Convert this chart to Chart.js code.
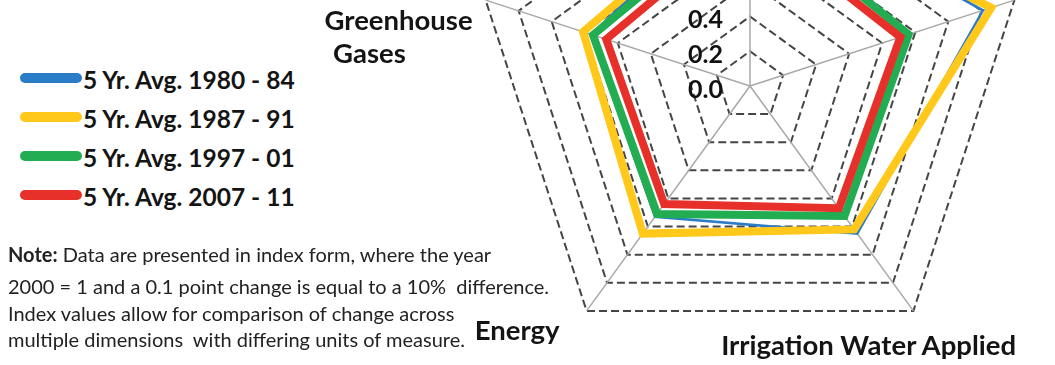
<!DOCTYPE html>
<html>
<head>
<meta charset="utf-8">
<script src="https://cdn.jsdelivr.net/npm/chart.js@4.4.1/dist/chart.umd.min.js"></script>
<style>
  html, body { margin: 0; padding: 0; background: #ffffff; }
  #wrap { position: relative; width: 1055px; height: 365px; overflow: hidden; background: #ffffff;
          font-family: Lato, "Open Sans", "Liberation Sans", sans-serif; color: #141414; }
  #chart { position: absolute; left: 472px; top: -192px; }
  .txt { position: absolute; white-space: pre; }
  .sw { position: absolute; border-radius: 5px; }
</style>
</head>
<body>
<div id="wrap"><canvas id="chart" width="556" height="556"></canvas></div>
<script>
// ---------------- data ----------------
const categories = ["Land Use", "Soil Erosion", "Irrigation Water Applied", "Energy", "Greenhouse Gases"];
const seriesLabels = ["5 Yr. Avg. 1980 - 84", "5 Yr. Avg. 1987 - 91", "5 Yr. Avg. 1997 - 01", "5 Yr. Avg. 2007 - 11"];
const avg1980to84 = [1.17, 1.41, 1.05, 0.93, 0.96];
const avg1987to91 = [1.13, 1.46, 1.02, 1.05, 1.01];
const avg1997to01 = [1.04, 0.96, 0.925, 0.91, 0.95];
const avg2007to11 = [0.96, 0.91, 0.87, 0.84, 0.87];
const tickLabels = ["0.0", "0.2", "0.4", "0.6", "0.8", "1.0", "1.2", "1.4", "1.6"];
const noteLead = "Note:";
const noteLines = [
  " Data are presented in index form, where the year",
  "2000 = 1 and a 0.1 point change is equal to a 10%  difference.",
  "Index values allow for comparison of change across",
  "multiple dimensions  with differing units of measure."
];

// ---------------- styles ----------------
const seriesColors = ["#2a7cc8", "#ffc81a", "#22ad52", "#e8302a"];
const seriesWidths = [2.5, 8, 8, 8];
const seriesOrder = [4, 3, 2, 1];
const FONT = 'Lato, "Open Sans", sans-serif';
const CANVAS_LEFT = 472, CANVAS_TOP = -192, WRAP_W = 1055;
const ASC = 0.887; // baseline position inside a line box of line-height = font size

const wrap = document.getElementById('wrap');

function addText(str, x, baseline, size, weight, align) {
  const el = document.createElement('div');
  el.className = 'txt';
  el.textContent = str;
  el.style.fontSize = size + 'px';
  el.style.lineHeight = size + 'px';
  el.style.fontWeight = weight;
  el.style.top = (baseline - ASC * size) + 'px';
  if (align === 'right') el.style.right = (WRAP_W - x) + 'px';
  else if (align === 'center') { el.style.left = x + 'px'; el.style.transform = 'translateX(-50%)'; }
  else el.style.left = x + 'px';
  wrap.appendChild(el);
  return el;
}

const tickLabelPlugin = {
  id: 'tickLabelsLeft',
  afterDatasetsDraw(chart) {
    const s = chart.scales.r;
    const ctx = chart.ctx;
    ctx.save();
    ctx.font = 'bold 25px ' + FONT;
    ctx.fillStyle = '#111111';
    ctx.textAlign = 'right';
    ctx.textBaseline = 'middle';
    s.ticks.forEach((t) => {
      const d = s.getDistanceFromCenterForValue(t.value);
      ctx.fillText(t.label, s.xCenter - 27, s.yCenter - d + 3.5);
    });
    ctx.restore();
  }
};

const seriesData = [avg1980to84, avg1987to91, avg1997to01, avg2007to11];

const chart = new Chart(document.getElementById('chart'), {
  type: 'radar',
  data: {
    labels: categories,
    datasets: seriesData.map((d, i) => ({
      label: seriesLabels[i],
      data: d,
      borderColor: seriesColors[i],
      backgroundColor: 'transparent',
      borderWidth: seriesWidths[i],
      order: seriesOrder[i],
      fill: false
    }))
  },
  options: {
    responsive: false,
    animation: false,
    devicePixelRatio: 1,
    plugins: { legend: { display: false }, tooltip: { enabled: false } },
    elements: {
      line: { tension: 0, borderJoinStyle: 'miter', borderCapStyle: 'butt' },
      point: { radius: 0, hoverRadius: 0 }
    },
    scales: {
      r: {
        min: 0,
        max: 1.6,
        ticks: { display: false, stepSize: 0.2, callback: (v, i) => tickLabels[i] },
        grid: { color: '#454545', lineWidth: 2, borderDash: [8, 4] },
        border: { dash: [8, 4] },
        angleLines: { color: '#a8a8a8', lineWidth: 1.5 },
        pointLabels: { display: false }
      }
    }
  },
  plugins: [tickLabelPlugin]
});

// ---------------- axis (point) labels, anchored on the scale's vertices ----------------
const r = chart.scales.r;
function vertex(i) {
  const p = r.getPointPosition(i, r.drawingArea);
  return { x: p.x + CANVAS_LEFT, y: p.y + CANVAS_TOP };
}
const PL = 27.5;
let v = vertex(0);
addText(categories[0], v.x, v.y - 10, PL, 700, 'center');
v = vertex(1);
addText(categories[1], v.x + 8, v.y - 10, PL, 700, 'left');
v = vertex(2);
addText(categories[2], v.x + 102.6, v.y + 44, PL, 700, 'right');
v = vertex(3);
addText(categories[3], v.x - 27, v.y + 29, PL, 700, 'right');
v = vertex(4);
const gg = categories[4].split(' ');
addText(gg[0], v.x - 13, v.y + 30, PL, 700, 'right');
addText(gg[1], v.x - 152.6, v.y + 63, PL, 700, 'left');

// ---------------- legend ----------------
seriesLabels.forEach((lab, i) => {
  const cy = 78.3 + i * 38.9;
  const sw = document.createElement('div');
  sw.className = 'sw';
  Object.assign(sw.style, { left: '20px', top: (cy - 5) + 'px', width: '62px', height: '10px', background: seriesColors[i] });
  wrap.appendChild(sw);
  addText(lab, 83, cy + 11.7, 24.5, 700, 'left');
});

// ---------------- note ----------------
const noteBaselines = [262, 294, 321, 347];
noteLines.forEach((line, i) => {
  const el = addText('', 8, noteBaselines[i], 20, 400, 'left');
  el.style.color = '#222222';
  if (i === 0) {
    const b = document.createElement('b');
    b.textContent = noteLead;
    el.appendChild(b);
  }
  el.appendChild(document.createTextNode(line));
});
</script>
</body>
</html>
